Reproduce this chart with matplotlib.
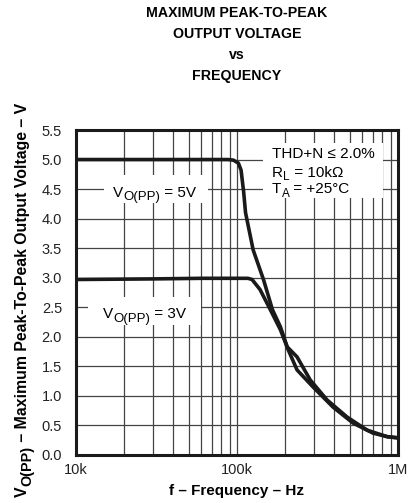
import matplotlib
matplotlib.use("Agg")
from matplotlib import pyplot as plt
from matplotlib.ticker import LogLocator, NullFormatter, FixedLocator
from matplotlib.transforms import offset_copy
from matplotlib.patches import Rectangle
import numpy as np

plt.rcParams['font.family'] = ['Liberation Sans', 'DejaVu Sans']

# 5V curve (Hz, V)
f_5v = [10e3, 30e3, 60e3, 88e3, 95e3, 102e3, 106e3, 110e3, 113e3, 126e3, 146e3, 166e3, 186e3,
        205e3, 236e3, 285e3, 363e3, 484e3, 643e3, 855e3, 1e6]
v_5v = [5.0, 5.0, 5.0, 5.0, 4.99, 4.94, 4.82, 4.45, 4.10, 3.47, 2.97, 2.46, 2.17,
        1.83, 1.66, 1.27, 0.93, 0.64, 0.42, 0.31, 0.29]

# 3V curve (Hz, V)
f_3v = [10e3, 30e3, 60e3, 100e3, 117e3, 124e3, 139e3, 161e3, 186e3, 208e3, 236e3,
        297e3, 395e3, 526e3, 700e3, 860e3, 1e6]
v_3v = [2.97, 2.98, 2.99, 2.99, 2.99, 2.97, 2.80, 2.46, 2.12, 1.78, 1.44,
        1.15, 0.81, 0.54, 0.37, 0.31, 0.29]

yticks = [0.0, 0.5, 1.0, 1.5, 2.0, 2.5, 3.0, 3.5, 4.0, 4.5, 5.0, 5.5]
xticks = [1e4, 1e5, 1e6]
xticklabels = ['10k', '100k', '1M']

EN = '\u2013'

fig = plt.figure(figsize=(4.14, 5.03), dpi=100)
ax = fig.add_axes([76/414, 1-455/503, (398-76)/414, (455-130)/503])
renderer = fig.canvas.get_renderer()


def rich(x, y, parts, transform, rotation=0, weight='normal', zorder=4):
    # draw text pieces one after another; each piece is (text, size, drop_px)
    adv = 0
    for s, size, drop in parts:
        if rotation == 0:
            tr = offset_copy(transform, fig=fig, x=adv, y=-drop, units='dots')
        else:
            tr = offset_copy(transform, fig=fig, x=drop, y=adv, units='dots')
        t = fig.text(x, y, s, transform=tr, fontsize=size, fontweight=weight,
                     ha='left', va='baseline', rotation=rotation,
                     rotation_mode='anchor', zorder=zorder)
        bb = t.get_window_extent(renderer)
        adv += bb.width if rotation == 0 else bb.height


ax.set_xscale('log')
ax.set_xlim(10e3, 1e6)
ax.set_ylim(0, 5.5)
ax.yaxis.set_major_locator(FixedLocator(yticks))
ax.set_yticklabels(['%.1f' % t for t in yticks])
ax.xaxis.set_major_locator(FixedLocator(xticks))
ax.set_xticklabels(xticklabels)
ax.xaxis.set_minor_locator(LogLocator(base=10, subs=np.arange(2, 10)))
ax.xaxis.set_minor_formatter(NullFormatter())
ax.tick_params(which='both', length=0, labelsize=10.5, colors='#222222')
ax.tick_params(axis='x', pad=6)
ax.tick_params(axis='y', pad=10)

ax.grid(which='major', color='#444444', lw=0.9)
ax.grid(which='minor', axis='x', color='#444444', lw=0.9)
ax.set_axisbelow(True)
for s in ax.spines.values():
    s.set_linewidth(2.2)
    s.set_color('#1a1a1a')
    s.set_zorder(5)

ax.plot(f_5v, v_5v, color='#1a1a1a', lw=2.6, solid_joinstyle='round', zorder=3)
ax.plot(f_3v, v_3v, color='#1a1a1a', lw=2.6, solid_joinstyle='round', zorder=3)

# white boxes that mask the grid behind the labels
for (x0, y0, x1, y1) in [(0.087, 0.775, 0.410, 0.862),
                         (0.037, 0.400, 0.388, 0.486),
                         (0.581, 0.791, 0.953, 0.960)]:
    ax.add_patch(Rectangle((x0, y0), x1 - x0, y1 - y0, transform=ax.transAxes,
                           facecolor='white', edgecolor='none', zorder=2))

rich(0.115, 0.794, [('V', 11, 0), ('O(PP)', 9.5, 3.5), (' = 5V', 11, 0)], ax.transAxes)
rich(0.084, 0.4215, [('V', 11, 0), ('O(PP)', 9.5, 3.5), (' = 3V', 11, 0)], ax.transAxes)
rich(0.609, 0.914, [('THD+N \u2264 2.0%', 11, 0)], ax.transAxes)
rich(0.609, 0.855, [('R', 11, 0), ('L', 8.5, 3), (' = 10k\u03a9', 11, 0)], ax.transAxes)
rich(0.609, 0.806, [('T', 11, 0), ('A', 8.5, 4), (' = +25\u00b0C', 11, 0)], ax.transAxes)

# axis titles
fig.text(237/414, 1-495/503, 'f ' + EN + ' Frequency ' + EN + ' Hz', fontsize=11,
         fontweight='bold', ha='center', va='baseline')
rich(27/414, 1-497/503, [('V', 11.4, 0), ('O(PP)', 10.4, 4),
                         (' ' + EN + ' Maximum Peak-To-Peak Output Voltage ' + EN + ' V', 11.4, 0)],
     fig.transFigure, rotation=90, weight='bold')

fig.text(237/414, 1-6/503, 'MAXIMUM PEAK-TO-PEAK\nOUTPUT VOLTAGE\nvs\nFREQUENCY',
         ha='center', va='top', fontsize=10.2, fontweight='bold', linespacing=1.65)

fig.savefig('out.png', dpi=100)
